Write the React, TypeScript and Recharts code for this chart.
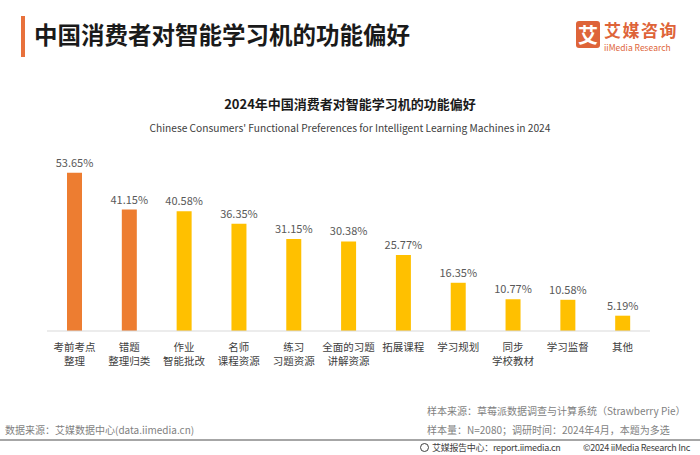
import React from 'react';
import { BarChart, Bar, XAxis, YAxis, Cell, LabelList } from 'recharts';

const categories = [
  '考前考点\n整理',
  '错题\n整理归类',
  '作业\n智能批改',
  '名师\n课程资源',
  '练习\n习题资源',
  '全面的习题\n讲解资源',
  '拓展课程',
  '学习规划',
  '同步\n学校教材',
  '学习监督',
  '其他',
];
const shares = [53.65, 41.15, 40.58, 36.35, 31.15, 30.38, 25.77, 16.35, 10.77, 10.58, 5.19];
const highlighted = [true, true, false, false, false, false, false, false, false, false, false];

const ORANGE = '#ED7D31';
const GOLD = '#FFC000';
const FONT = '"Noto Sans CJK SC", "Noto Sans", sans-serif';

const data = categories.map((name, i) => ({ name, value: shares[i] }));

const CategoryTick = ({ x, y, payload }: any) => {
  const lines = String(payload.value).split('\n');
  return (
    <g transform={`translate(${x},${y})`}>
      {lines.map((line, i) => (
        <text
          key={i}
          x={0}
          y={12 + i * 14}
          textAnchor="middle"
          fontSize={10.5}
          fill="#404040"
          fontFamily={FONT}
        >
          {line}
        </text>
      ))}
    </g>
  );
};

const Logo = () => (
  <>
    <div
      style={{
        position: 'absolute',
        left: 576,
        top: 21,
        width: 24,
        height: 27,
        borderRadius: 3,
        background: '#DE6439',
        color: '#fff',
        fontSize: 20,
        fontWeight: 700,
        lineHeight: '27px',
        textAlign: 'center',
      }}
    >
      艾
    </div>
    <div
      style={{
        position: 'absolute',
        left: 604,
        top: 20,
        color: '#DE6439',
        fontSize: 17,
        fontWeight: 700,
        lineHeight: '19px',
        letterSpacing: 1.5,
        whiteSpace: 'nowrap',
      }}
    >
      艾媒咨询
    </div>
    <div
      style={{
        position: 'absolute',
        left: 604,
        top: 42,
        color: '#DE6439',
        fontSize: 8.5,
        lineHeight: '10px',
        whiteSpace: 'nowrap',
      }}
    >
      iiMedia Research
    </div>
  </>
);

export default function App() {
  return (
    <div
      style={{
        position: 'fixed',
        left: 0,
        top: 0,
        width: 700,
        height: 455,
        background: '#fff',
        fontFamily: FONT,
        overflow: 'hidden',
      }}
    >
      {/* header */}
      <div style={{ position: 'absolute', left: 21, top: 16, width: 4, height: 41, background: '#E8713C' }} />
      <div
        style={{
          position: 'absolute',
          left: 34,
          top: 18,
          fontSize: 23.5,
          fontWeight: 700,
          color: '#1a1a1a',
          lineHeight: '32px',
          whiteSpace: 'nowrap',
        }}
      >
        中国消费者对智能学习机的功能偏好
      </div>
      <Logo />

      <div
        style={{
          position: 'absolute',
          left: 0,
          width: 700,
          top: 95,
          textAlign: 'center',
          fontSize: 13,
          fontWeight: 700,
          color: '#1a1a1a',
          lineHeight: '18px',
        }}
      >
        2024年中国消费者对智能学习机的功能偏好
      </div>
      <div
        style={{
          position: 'absolute',
          left: 0,
          width: 700,
          top: 120,
          textAlign: 'center',
          fontSize: 10.2,
          color: '#404040',
          lineHeight: '16px',
        }}
      >
        Chinese Consumers' Functional Preferences for Intelligent Learning Machines in 2024
      </div>

      <div style={{ position: 'absolute', left: 0, top: 0 }}>
        <BarChart width={700} height={455} data={data} margin={{ top: 154, right: 50, bottom: 84, left: 47 }}>
          <XAxis
            dataKey="name"
            interval={0}
            tickLine={false}
            axisLine={{ stroke: '#D9D9D9', strokeWidth: 1 }}
            tick={<CategoryTick />}
            height={40}
          />
          <YAxis hide domain={[0, 60]} />
          <Bar dataKey="value" barSize={15} isAnimationActive={false}>
            {data.map((d, i) => (
              <Cell key={d.name} fill={highlighted[i] ? ORANGE : GOLD} />
            ))}
            <LabelList
              dataKey="value"
              position="top"
              offset={6}
              formatter={(v: any) => `${Number(v).toFixed(2)}%`}
              style={{ fontSize: 11, fill: '#595959', fontFamily: FONT }}
            />
          </Bar>
        </BarChart>
      </div>

      {/* footer */}
      <div style={{ position: 'absolute', left: 427, top: 403, fontSize: 10, color: '#7f7f7f', lineHeight: '16px', whiteSpace: 'nowrap' }}>
        样本来源：草莓派数据调查与计算系统（Strawberry Pie）
      </div>
      <div style={{ position: 'absolute', left: 427, top: 422, fontSize: 10, color: '#7f7f7f', lineHeight: '16px', whiteSpace: 'nowrap' }}>
        样本量：N=2080；调研时间：2024年4月，本题为多选
      </div>
      <div style={{ position: 'absolute', left: 5, top: 422, fontSize: 10, color: '#7f7f7f', lineHeight: '16px', whiteSpace: 'nowrap' }}>
        数据来源：艾媒数据中心(data.iimedia.cn)
      </div>
      <div style={{ position: 'absolute', left: 0, top: 439, width: 700, height: 2, background: '#A6A6A6' }} />
      <div
        style={{
          position: 'absolute',
          left: 420,
          top: 443,
          width: 9,
          height: 9,
          border: '1px solid #404040',
          borderRadius: '50%',
          boxSizing: 'border-box',
        }}
      />
      <div
        style={{
          position: 'absolute',
          left: 432,
          top: 441,
          fontSize: 9,
          letterSpacing: -0.3,
          color: '#404040',
          lineHeight: '14px',
          whiteSpace: 'nowrap',
        }}
      >
        艾媒报告中心：report.iimedia.cn
      </div>
      <div
        style={{
          position: 'absolute',
          right: 10,
          top: 441,
          fontSize: 9,
          letterSpacing: -0.3,
          color: '#404040',
          lineHeight: '14px',
          whiteSpace: 'nowrap',
        }}
      >
        ©2024 iiMedia Research Inc
      </div>
    </div>
  );
}
